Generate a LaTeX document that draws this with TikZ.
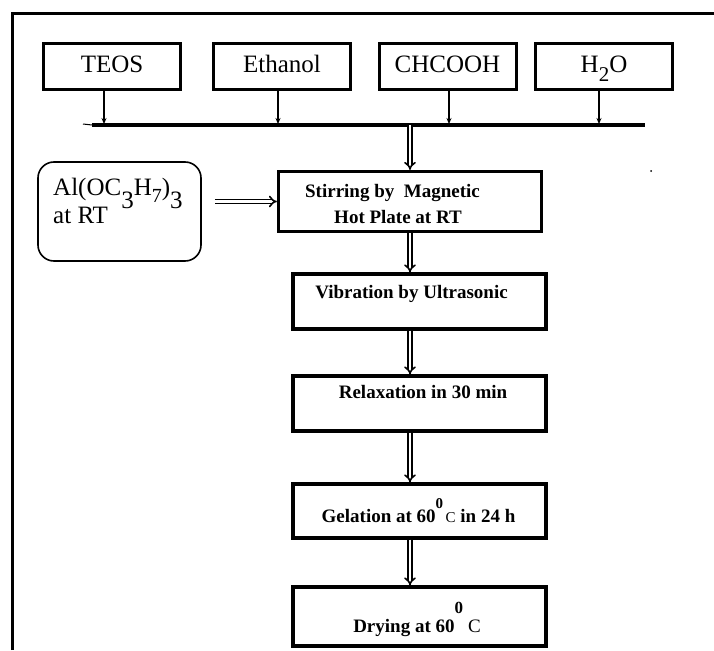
\documentclass[tikz,border=0pt]{standalone}
\usepackage{fontspec}
\setmainfont{Liberation Serif}
\usetikzlibrary{arrows.meta}
\begin{document}
\begin{tikzpicture}[x=1pt,y=-1pt,
 inbox/.style={draw, line width=3pt, minimum width=137pt, minimum height=46pt, inner sep=0pt,
   text height=17pt, text depth=5pt, font=\fontsize{25}{28}\selectfont},
 pbox/.style={draw, line width=3.2pt, inner sep=0pt},
 thinarr/.style={line width=1.3pt, -{Stealth[length=6pt,width=5pt]}, shorten >=1pt},
 dbl/.style={double, double distance=2.2pt, line width=1.6pt, -{Implies}},
 btxt/.style={font=\fontsize{19}{22}\selectfont\bfseries, anchor=base, inner sep=0pt}
]
\useasboundingbox (0,0) rectangle (714,650);
% outer frame (open to right and bottom)
\draw[line width=3pt] (12,650) -- (12,14) -- (714,14);

% input boxes
\node[inbox] (teos) at (112,67) {TEOS};
\node[inbox] (eth) at (282,67) {Ethanol};
\node[inbox] (ch) at (447.5,67) {CHCOOH};
\node[inbox] (h2o) at (604,67) {H\raisebox{-9pt}{\fontsize{21}{22}\selectfont 2}O};

% bus
\coordinate (busL) at (92,125);
\coordinate (busR) at (645,125);
\coordinate (busT) at (83,124);
\draw[line width=4pt] (busL) -- (busR);
\draw[line width=1pt] (busT) -- (busL);

\coordinate (a1) at ([xshift=-8pt]teos.south);
\coordinate (a2) at ([xshift=-4pt]eth.south);
\coordinate (a3) at ([xshift=1.5pt]ch.south);
\coordinate (a4) at ([xshift=-5pt]h2o.south);
\draw[thinarr] (a1) -- (a1 |- busL);
\draw[thinarr] (a2) -- (a2 |- busL);
\draw[thinarr] (a3) -- (a3 |- busL);
\draw[thinarr] (a4) -- (a4 |- busL);

% process boxes
\node[pbox, minimum width=263pt, minimum height=60pt] (stir) at (410,201.5) {};
\node[pbox, minimum width=253pt, minimum height=55pt] (vib) at (419.5,301.5) {};
\node[pbox, minimum width=253pt, minimum height=55pt] (relax) at (419.5,403.5) {};
\node[pbox, minimum width=253pt, minimum height=54pt] (gel) at (419.5,511) {};
\node[pbox, minimum width=253pt, minimum height=59pt] (dry) at (419.5,616.5) {};

\node[btxt] (stirA) at (392.5,197) {Stirring by\ \ Magnetic};
\node[btxt] (stirB) at (398,223) {Hot Plate at RT};
\node[btxt] (vibT) at (411.5,298) {Vibration by Ultrasonic};
\node[btxt] (relT) at (423,398) {Relaxation in 30 min};
\node[btxt] (gelT) at (418.5,522) {Gelation at 60\raisebox{14pt}{\fontsize{15}{16}\selectfont 0}{\mdseries\fontsize{15}{16}\selectfont\,C} in 24 h};
\node[btxt] (dryT) at (417,632) {Drying at 60\raisebox{19pt}{\fontsize{17}{18}\selectfont 0}\hspace{5pt}{\mdseries C}};

% side input
\node[draw, line width=1.6pt, rounded corners=16pt, minimum width=163pt, minimum height=99pt] (al) at (119.5,211.5) {};
\node[anchor=base west, inner sep=0pt, font=\fontsize{25}{26}\selectfont] (alA) at (53,195)
  {Al(OC\raisebox{-13pt}{3}H\raisebox{-7pt}{\fontsize{20}{20}\selectfont 7})\raisebox{-13pt}{3}};
\node[anchor=base west, inner sep=0pt, font=\fontsize{25}{26}\selectfont] (alB) at (53,223) {at RT};

% double arrows
\coordinate (alout) at ([xshift=13pt]al.east);
\draw[dbl] (alout |- stir.west) -- (stir.west);
\draw[dbl] (busL -| stir.north) -- (stir.north);
\draw[dbl] (stir.south) -- (stir.south |- vib.north);
\draw[dbl] (stir.south |- vib.south) -- (stir.south |- relax.north);
\draw[dbl] (stir.south |- relax.south) -- (stir.south |- gel.north);
\draw[dbl] (stir.south |- gel.south) -- (stir.south |- dry.north);

% stray dot
\fill (651,171) circle (1pt);
\end{tikzpicture}
\end{document}
